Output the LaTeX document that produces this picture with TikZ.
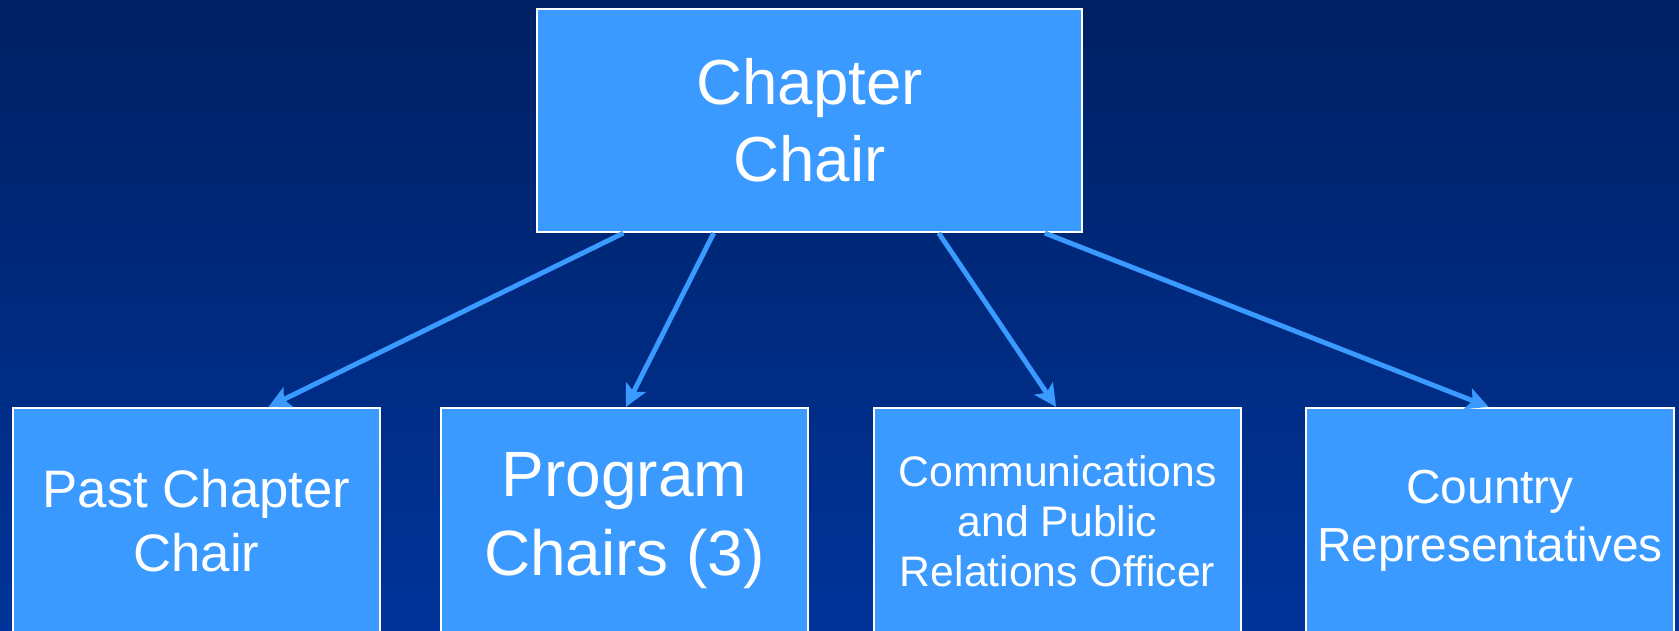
\documentclass[tikz,border=0pt]{standalone}
\usepackage{fontspec}
\setmainfont{Liberation Sans}
\usetikzlibrary{arrows.meta,calc,positioning}
\definecolor{navytop}{HTML}{002063}
\definecolor{navymid}{HTML}{002E8A}
\definecolor{navybot}{HTML}{00349A}
\definecolor{boxblue}{HTML}{3A9AFF}
\tikzset{>={Stealth[length=0.22cm,width=0.22cm,inset=0.05cm]},
	block/.style={% light blue boxes of the chart
		draw=white, fill=boxblue, rectangle,
		line width=0.6pt,
		minimum width=3.67cm,
		minimum height=2.26cm,
		inner sep=0pt,
		text=white,
		align=center
	},
	link/.style={
		->, draw=boxblue,
		line width=1.4pt
	}
}

\begin{document}
\begin{tikzpicture}[x=0.01cm,y=-0.01cm]
			\shade [top color=navytop, middle color=navymid, bottom color=navybot] (0,0) rectangle (1679,631);
			\useasboundingbox (0,0) rectangle (1679,631);
			\clip (0,0) rectangle (1679,631);
			\node [block, minimum width=5.45cm, minimum height=2.23cm, font=\fontsize{18.1}{22}\selectfont] (chair) at (809.5,120.5) {Chapter\\Chair};
			\node [block, font=\fontsize{15}{18.2}\selectfont] (past) at (196.5,521) {Past Chapter\\Chair};
			\node [block, font=\fontsize{18.2}{22.5}\selectfont] (prog) at (624.5,521) {Program\\Chairs (3)};
			\node [block, font=\fontsize{12.15}{14.2}\selectfont] (comm) at (1057.5,521) {Communications\\and Public\\Relations Officer};
			\node [block, font=\fontsize{13.6}{16.6}\selectfont] (ctry) at (1490,521) {Country\\Representatives};
			\draw [link] ($(chair.south west)!0.16!(chair.south east)$) -- ($(past.north west)!0.695!(past.north east)$);
			\draw [link] ($(chair.south west)!0.325!(chair.south east)$) -- ($(prog.north west)!0.504!(prog.north east)$);
			\draw [link] ($(chair.south west)!0.736!(chair.south east)$) -- ($(comm.north west)!0.496!(comm.north east)$);
			\draw [link] ($(chair.south west)!0.93!(chair.south east)$) -- ($(ctry.north west)!0.496!(ctry.north east)$);
\end{tikzpicture}
\end{document}
